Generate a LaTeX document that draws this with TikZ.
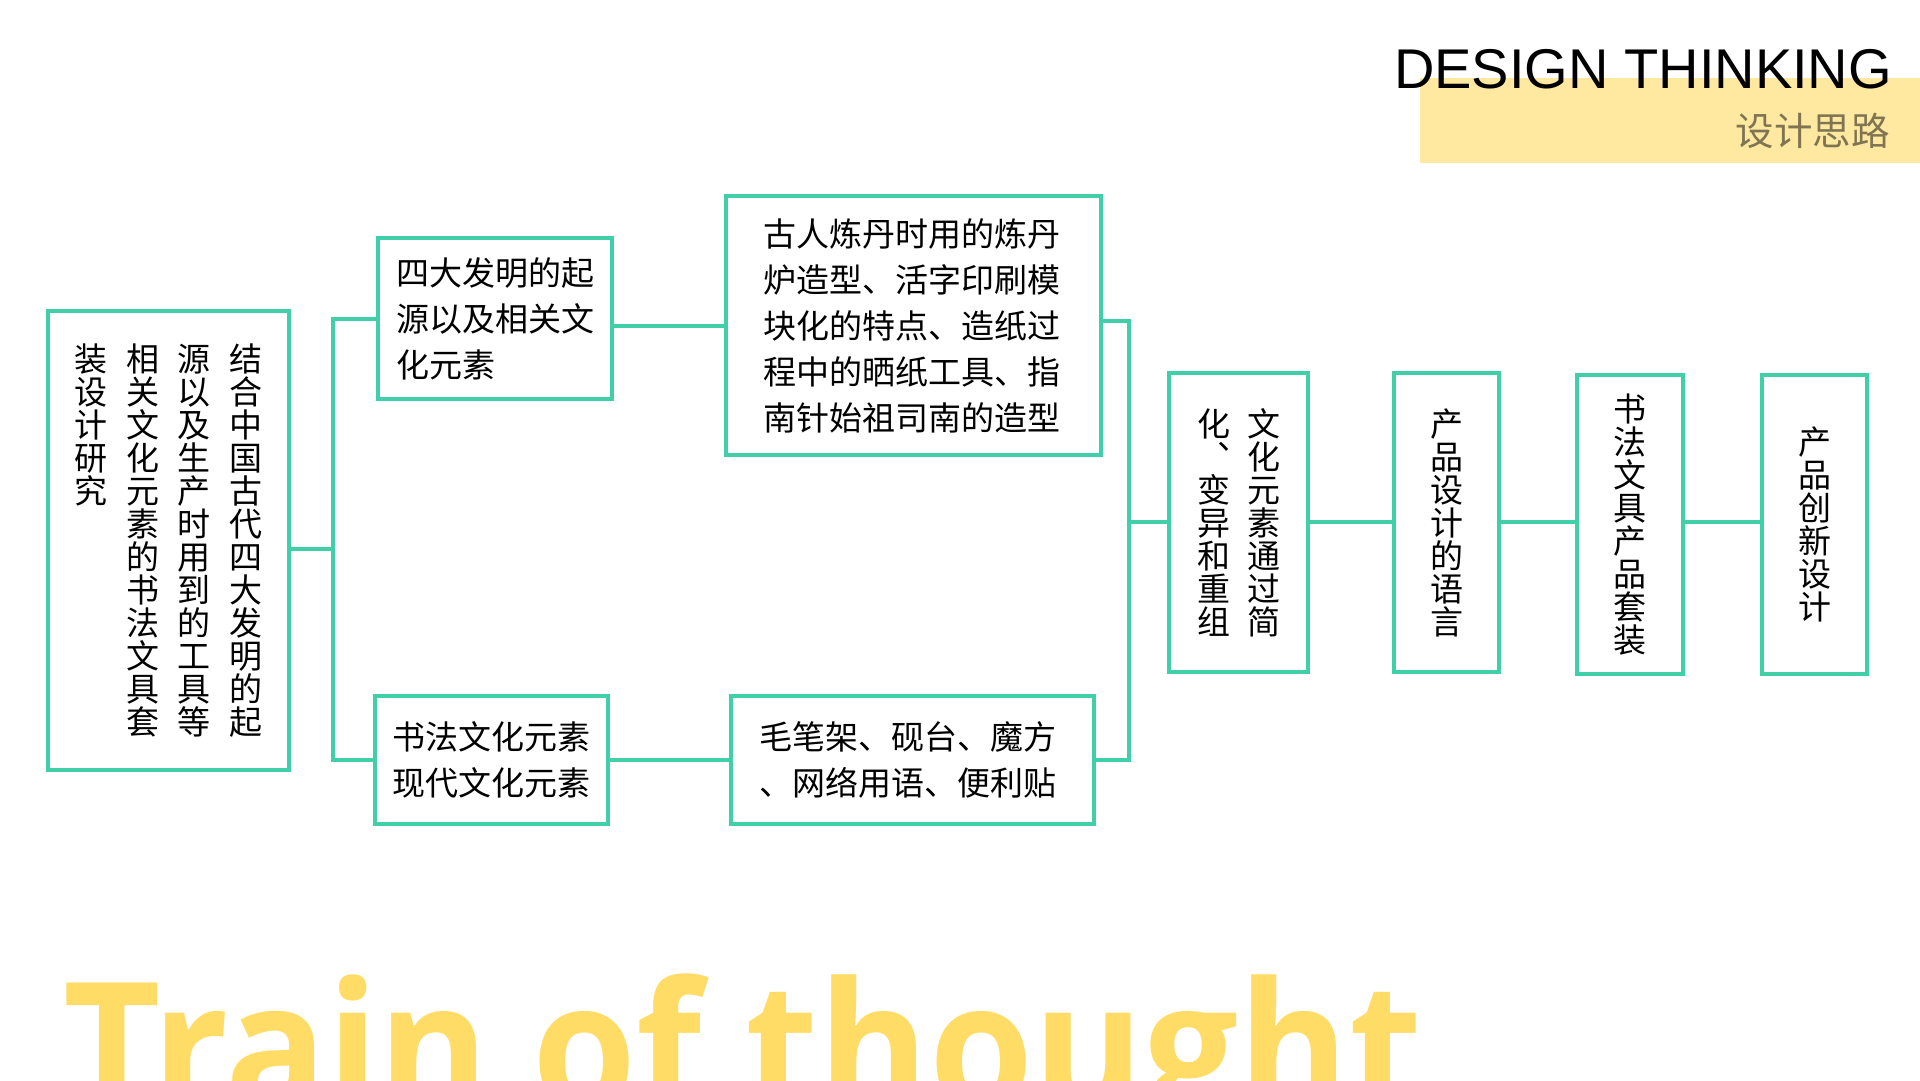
\documentclass[tikz,border=0pt]{standalone}
\usepackage{fontspec}
\usepackage{graphicx}
\setmainfont{Liberation Sans}
\newfontfamily\cjk{Noto Sans CJK SC}
\newfontfamily\trainfont{Open Sans}
\definecolor{tealc}{HTML}{40CFA9}
\definecolor{bandy}{HTML}{FFE9A0}
\definecolor{trainy}{HTML}{FFDC66}
\definecolor{olive}{HTML}{7F7552}
\newcommand\vsetup{\lineskiplimit=-100pt\lineskip=0pt}
\makeatletter
\def\vsloop#1{\ifx#1\relax\else#1\par\expandafter\vsloop\fi}
\newcommand\vcol[1]{\parbox[t]{33pt}{\centering\vsloop#1\relax}}
\makeatother
\tikzset{
  box/.style={draw=tealc, line width=4pt, inner sep=0pt, text=black},
  htext/.style={font=\cjk\fontsize{33}{46}\selectfont, align=left},
  vtext/.style={font={\cjk\fontsize{33}{33}\selectfont\vsetup}},
  conn/.style={draw=tealc, line width=4pt, line join=miter}
}
\begin{document}
\begin{tikzpicture}[x=1pt,y=-1pt]
\useasboundingbox (0,0) rectangle (1920,1080);
\clip (0,0) rectangle (1920,1080);
\fill[white] (0,0) rectangle (1920,1080);
% header
\fill[bandy] (1420,78) rectangle (1920,163);
\node[anchor=base west, inner sep=0pt, font=\fontsize{56}{56}\selectfont] (title) at (1394,88) {DESIGN THINKING};
\node[anchor=east, inner sep=0pt, text=olive, font=\cjk\fontsize{38.5}{38.5}\selectfont] (subtitle) at (1890,131) {设计思路};
% boxes
\node[box, vtext, minimum width=241pt, minimum height=459pt] (A) at (168.5,540.5)
  {\vcol{装设计研究}\hspace{18.5pt}\vcol{相关文化元素的书法文具套}\hspace{18.5pt}\vcol{源以及生产时用到的工具等}\hspace{18.5pt}\vcol{结合中国古代四大发明的起}};
\node[box, htext, minimum width=234pt, minimum height=161pt] (B1) at (495,318.5)
  {四大发明的起\\源以及相关文\\化元素};
\node[box, htext, minimum width=375pt, minimum height=259pt] (C1) at (913.5,325.5)
  {古人炼丹时用的炼丹\\炉造型、活字印刷模\\块化的特点、造纸过\\程中的晒纸工具、指\\南针始祖司南的造型\hspace*{4pt}};
\node[box, htext, minimum width=233pt, minimum height=128pt] (B2) at (491.5,760)
  {书法文化元素\\现代文化元素};
\node[box, htext, minimum width=363pt, minimum height=128pt] (C2) at (912.5,760)
  {毛笔架、砚台、魔方\\、网络用语、便利贴\hspace*{10pt}};
\node[box, vtext, minimum width=139pt, minimum height=299pt] (D) at (1238.5,522.5)
  {\vcol{化︑变异和重组}\hspace{17pt}\vcol{文化元素通过简}};
\node[box, vtext, minimum width=105pt, minimum height=299pt] (E) at (1446.5,522.5)
  {\vcol{产品设计的语言}};
\node[box, vtext, minimum width=106pt, minimum height=299pt] (F) at (1630,524.5)
  {\vcol{书法文具产品套装}};
\node[box, vtext, minimum width=105pt, minimum height=299pt] (G) at (1814.5,524.5)
  {\vcol{产品创新设计}};
% connectors
\coordinate (lbus) at (333,549);
\coordinate (rbus) at (1129,522);
\draw[conn] (B1.west) -| (lbus) |- (B2.west);
\draw[conn] (A.east |- lbus) -- (lbus);
\draw[conn] (B1.east |- C1.west) -- (C1.west);
\draw[conn] (B2.east) -- (C2.west);
\draw[conn] ([yshift=4.5pt]C1.east) -| (rbus) |- (C2.east);
\draw[conn] (rbus) -- (D.west |- rbus);
\draw[conn] (D.east |- rbus) -- (E.west |- rbus);
\draw[conn] (E.east |- rbus) -- (F.west |- rbus);
\draw[conn] (F.east |- rbus) -- (G.west |- rbus);
% big caption
\node[anchor=base west, inner sep=0pt, text=trainy, font=\trainfont\bfseries\fontsize{180}{180}\selectfont] (train) at (63,1111) {\scalebox{0.935}[1]{Train of thought}};
\end{tikzpicture}
\end{document}
